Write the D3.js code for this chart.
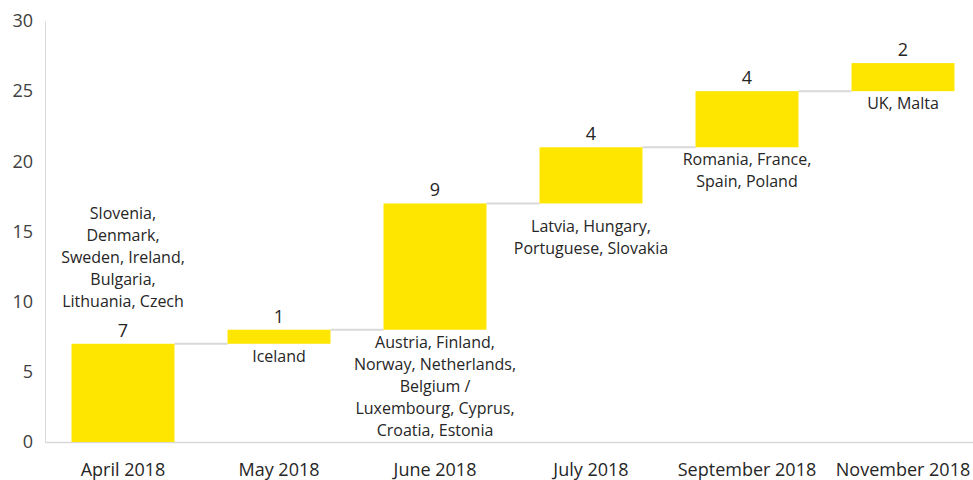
<!DOCTYPE html>
<html>
<head>
<meta charset="utf-8">
<script src="https://cdn.jsdelivr.net/npm/d3@7"></script>
<style>
  html, body { margin: 0; padding: 0; background: #fff; }
  svg { display: block; font-family: "Open Sans", sans-serif; }
</style>
</head>
<body>
<svg id="chart" width="973" height="480"></svg>
<script>
// Monthly additions, drawn as a waterfall of cumulative totals
const months = ["April 2018", "May 2018", "June 2018", "July 2018", "September 2018", "November 2018"];
const added = [7, 1, 9, 4, 4, 2];
const countries = [
  ["Slovenia,", "Denmark,", "Sweden, Ireland,", "Bulgaria,", "Lithuania, Czech"],
  ["Iceland"],
  ["Austria, Finland,", "Norway, Netherlands,", "Belgium /", "Luxembourg, Cyprus,", "Croatia, Estonia"],
  ["Latvia, Hungary,", "Portuguese, Slovakia"],
  ["Romania, France,", "Spain, Poland"],
  ["UK, Malta"]
];
const yTicks = [0, 5, 10, 15, 20, 25, 30];

const svg = d3.select("#chart");
const margin = { left: 45, right: -8, top: 21, bottom: 38 };
const W = 973, H = 480;

// running totals: each bar floats from the previous total to the new one
let run = 0;
const steps = added.map((v, i) => {
  const start = run; run += v;
  return { month: months[i], value: v, start, end: run, names: countries[i] };
});

const x = d3.scaleBand().domain(months)
  .range([margin.left, W - margin.right]).paddingInner(0.34).paddingOuter(0.17);
const y = d3.scaleLinear().domain([0, 30]).range([H - margin.bottom, margin.top]);

const textColor = "#404040";
const gridGray = "#d9d9d9";
const font = "'Open Sans', sans-serif";

// y axis
const yAxis = svg.append("g").attr("transform", `translate(${margin.left},0)`)
  .call(d3.axisLeft(y).tickValues(yTicks).tickSize(0).tickPadding(12));
yAxis.select(".domain").attr("stroke", gridGray).attr("stroke-width", 1);
yAxis.selectAll("text").attr("font-size", 18).attr("fill", textColor)
  .attr("font-family", font);

// x axis baseline and labels
const xAxis = svg.append("g").attr("transform", `translate(0,${y(0)})`)
  .call(d3.axisBottom(x).tickSize(0).tickPadding(21));
xAxis.select(".domain").attr("stroke", gridGray).attr("stroke-width", 1.5);
xAxis.selectAll("text").attr("font-size", 18).attr("fill", "#262626")
  .attr("font-family", font);

// connectors between consecutive bars
svg.append("g").selectAll("line").data(steps.slice(0, -1)).join("line")
  .attr("x1", d => x(d.month) + x.bandwidth())
  .attr("x2", (d, i) => x(steps[i + 1].month))
  .attr("y1", d => y(d.end)).attr("y2", d => y(d.end))
  .attr("stroke", gridGray).attr("stroke-width", 2);

// floating bars
svg.append("g").selectAll("rect").data(steps).join("rect")
  .attr("x", d => x(d.month))
  .attr("width", x.bandwidth())
  .attr("y", d => y(d.end))
  .attr("height", d => y(d.start) - y(d.end))
  .attr("fill", "#ffe600");

// value labels above each bar
svg.append("g").selectAll("text").data(steps).join("text")
  .attr("x", d => x(d.month) + x.bandwidth() / 2)
  .attr("y", d => y(d.end) - 7)
  .attr("text-anchor", "middle")
  .attr("font-size", 18).attr("fill", "#262626")
  .text(d => d.value);

// country lists: below the bar, or stacked above the value when the bar sits on the axis
const lineH = 22;
const extraDrop = { "July 2018": 11 };
const names = svg.append("g").selectAll("text").data(steps).join("text")
  .attr("text-anchor", "middle")
  .attr("font-size", 16).attr("fill", "#262626")
  .attr("x", d => x(d.month) + x.bandwidth() / 2)
  .attr("y", d => d.start === 0
    ? y(d.end) - 37 - (d.names.length - 1) * lineH
    : y(d.start) + 18 + (extraDrop[d.month] || 0));
names.selectAll("tspan").data(d => d.names.map(n => ({ n, d }))).join("tspan")
  .attr("x", t => x(t.d.month) + x.bandwidth() / 2)
  .attr("dy", (t, i) => i === 0 ? 0 : lineH)
  .text(t => t.n);
</script>
</body>
</html>
